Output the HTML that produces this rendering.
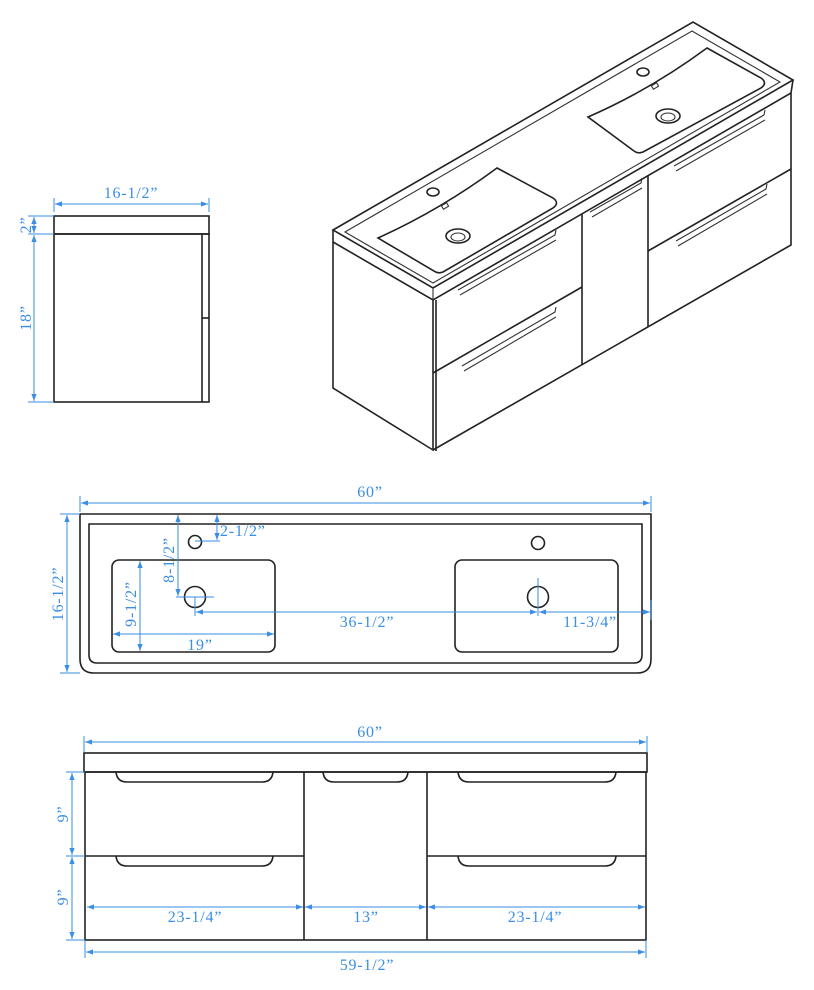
<!DOCTYPE html>
<html><head><meta charset="utf-8"><style>
html,body{margin:0;padding:0;background:#fff;}
svg{display:block;}
text{font-family:"Liberation Serif","Noto Serif CJK SC",serif;font-size:16px;letter-spacing:0.8px;fill:#3a8ee6;}
.k{fill:none;stroke:#222;stroke-width:1.6;}
.t{fill:none;stroke:#333;stroke-width:1.1;}
.d{fill:none;stroke:#3a8ee6;stroke-width:1;}
.a{fill:#3a8ee6;}
</style></head><body>
<svg width="814" height="990" viewBox="0 0 814 990" xmlns="http://www.w3.org/2000/svg">
<defs>
<marker id="m" viewBox="0 0 8 8" refX="8" refY="4" markerWidth="7" markerHeight="7" orient="auto-start-reverse"><path d="M0,1 L8,4 L0,7 z" fill="#3a8ee6"/></marker>
</defs>

<!-- ===== SIDE VIEW ===== -->
<rect class="k" x="54" y="216" width="155" height="18"/>
<rect class="k" x="54" y="234" width="155" height="168"/>
<line class="k" x1="202" y1="234" x2="202" y2="402"/>
<line class="k" x1="202" y1="318" x2="209" y2="318"/>
<line class="d" x1="54" y1="198" x2="54" y2="212"/>
<line class="d" x1="209" y1="198" x2="209" y2="212"/>
<line class="d" x1="55" y1="204" x2="208" y2="204" marker-start="url(#m)" marker-end="url(#m)"/>
<text x="131" y="198" text-anchor="middle">16-1/2”</text>
<line class="d" x1="28" y1="216" x2="54" y2="216"/>
<line class="d" x1="28" y1="234" x2="54" y2="234"/>
<line class="d" x1="28" y1="402" x2="54" y2="402"/>
<line class="d" x1="34" y1="217" x2="34" y2="233" marker-start="url(#m)" marker-end="url(#m)"/>
<line class="d" x1="34" y1="235" x2="34" y2="401" marker-start="url(#m)" marker-end="url(#m)"/>
<text transform="translate(31,225) rotate(-90)" text-anchor="middle">2”</text>
<text transform="translate(31,318) rotate(-90)" text-anchor="middle">18”</text>

<!-- ===== 3D VIEW ===== -->
<polygon class="k" points="333,230 693,22 793,80 433,288"/>
<polygon class="t" points="345,232 692,31 780,82 433,283"/>
<polyline class="k" points="333,230 333,242 433,300 791,93 793,80"/>
<line class="t" x1="433" y1="288" x2="433" y2="300"/>
<polyline class="k" points="333,242 333,388 433,450 433,300"/>
<polyline class="k" points="433,450 791,245 791,93"/>
<line class="k" x1="436" y1="300" x2="436" y2="451"/>
<line class="k" x1="582" y1="214" x2="582" y2="365"/>
<line class="k" x1="648" y1="176" x2="648" y2="327"/>
<line class="k" x1="433" y1="373" x2="582" y2="287"/>
<line class="k" x1="648" y1="251" x2="791" y2="169"/>
<g class="t">
<polyline points="458,290 555,235 556,230"/>
<polyline points="460,295 556,240"/>
<polyline points="462,366 555,312 556,307"/>
<polyline points="464,371 556,317"/>
<polyline points="590,212 641,183 642,178"/>
<polyline points="592,217 642,188"/>
<polyline points="674,166 764,115 765,110"/>
<polyline points="676,171 765,120"/>
<polyline points="676,241 766,189 767,184"/>
<polyline points="678,246 767,194"/>
</g>
<path class="k" d="M378,238 Q440,210 497,168 L553,198 Q560,203 553,208 L443,272 Q438,274 434,271 Z"/>
<path class="k" d="M588,117 Q650,90 707,48 L761,78 Q768,83 761,88 L643,152 Q638,154 634,151 Z"/>
<ellipse class="k" cx="458" cy="236" rx="12" ry="7"/>
<ellipse class="t" cx="458" cy="237" rx="7" ry="4"/>
<ellipse class="k" cx="668" cy="116" rx="12" ry="7"/>
<ellipse class="t" cx="668" cy="117" rx="7" ry="4"/>
<ellipse class="k" cx="433" cy="192" rx="6" ry="4"/>
<ellipse class="k" cx="643" cy="72" rx="6" ry="4"/>
<rect class="t" x="442" y="204" width="6" height="4" transform="rotate(-30 445 206)"/>
<rect class="t" x="652" y="84" width="6" height="4" transform="rotate(-30 655 86)"/>

<!-- ===== TOP VIEW ===== -->
<path class="k" d="M80,514 L651,514 L651,659 Q651,673 637,673 L94,673 Q80,673 80,659 Z"/>
<path class="k" d="M89,524 L642,524 L642,655 Q642,663 634,663 L97,663 Q89,663 89,655 Z"/>
<rect class="k" x="112" y="560" width="163" height="92" rx="7"/>
<rect class="k" x="455" y="560" width="163" height="92" rx="7"/>
<circle class="k" cx="195" cy="542" r="6.5"/>
<circle class="k" cx="538" cy="543" r="6.5"/>
<circle class="k" cx="195" cy="597" r="10.5"/>
<circle class="k" cx="538" cy="597" r="10.5"/>
<line class="d" x1="80" y1="496" x2="80" y2="512"/>
<line class="d" x1="651" y1="496" x2="651" y2="512"/>
<line class="d" x1="81" y1="503" x2="650" y2="503" marker-start="url(#m)" marker-end="url(#m)"/>
<text x="370" y="497" text-anchor="middle">60”</text>
<line class="d" x1="60" y1="514" x2="80" y2="514"/>
<line class="d" x1="60" y1="673" x2="80" y2="673"/>
<line class="d" x1="67" y1="515" x2="67" y2="672" marker-start="url(#m)" marker-end="url(#m)"/>
<text transform="translate(63,594) rotate(-90)" text-anchor="middle">16-1/2”</text>
<line class="d" x1="217" y1="515" x2="217" y2="540" marker-start="url(#m)" marker-end="url(#m)"/>
<line class="d" x1="195" y1="541" x2="220" y2="541"/>
<text x="220" y="536">2-1/2”</text>
<line class="d" x1="178" y1="515" x2="178" y2="596" marker-start="url(#m)" marker-end="url(#m)"/>
<line class="d" x1="176" y1="597" x2="214" y2="597"/>
<text transform="translate(174,560) rotate(-90)" text-anchor="middle">8-1/2”</text>
<line class="d" x1="140" y1="561" x2="140" y2="651" marker-start="url(#m)" marker-end="url(#m)"/>
<text transform="translate(136,604) rotate(-90)" text-anchor="middle">9-1/2”</text>
<line class="d" x1="113" y1="634" x2="274" y2="634" marker-start="url(#m)" marker-end="url(#m)"/>
<text x="200" y="650" text-anchor="middle">19”</text>
<line class="d" x1="195" y1="597" x2="195" y2="616"/>
<line class="d" x1="538" y1="578" x2="538" y2="616"/>
<line class="d" x1="196" y1="612" x2="537" y2="612" marker-start="url(#m)" marker-end="url(#m)"/>
<text x="367" y="627" text-anchor="middle">36-1/2”</text>
<line class="d" x1="539" y1="612" x2="650" y2="612" marker-start="url(#m)" marker-end="url(#m)"/>
<line class="d" x1="651" y1="600" x2="651" y2="620"/>
<text x="590" y="627" text-anchor="middle">11-3/4”</text>

<!-- ===== FRONT VIEW ===== -->
<rect class="k" x="84" y="753" width="563" height="19"/>
<rect class="k" x="85" y="772" width="561" height="168"/>
<line class="k" x1="304" y1="772" x2="304" y2="940"/>
<line class="k" x1="427" y1="772" x2="427" y2="940"/>
<line class="k" x1="85" y1="856" x2="304" y2="856"/>
<line class="k" x1="427" y1="856" x2="646" y2="856"/>
<g class="k">
<path d="M116,772 Q117,782 127,782 L262,782 Q272,782 273,772"/>
<path d="M323,772 Q324,782 334,782 L397,782 Q407,782 408,772"/>
<path d="M458,772 Q459,782 469,782 L605,782 Q615,782 616,772"/>
<path d="M116,856 Q117,866 127,866 L262,866 Q272,866 273,856"/>
<path d="M458,856 Q459,866 469,866 L605,866 Q615,866 616,856"/>
</g>
<line class="d" x1="84" y1="736" x2="84" y2="752"/>
<line class="d" x1="647" y1="736" x2="647" y2="752"/>
<line class="d" x1="85" y1="742" x2="646" y2="742" marker-start="url(#m)" marker-end="url(#m)"/>
<text x="370" y="737" text-anchor="middle">60”</text>
<line class="d" x1="66" y1="772" x2="85" y2="772"/>
<line class="d" x1="66" y1="856" x2="85" y2="856"/>
<line class="d" x1="66" y1="940" x2="85" y2="940"/>
<line class="d" x1="72" y1="773" x2="72" y2="855" marker-start="url(#m)" marker-end="url(#m)"/>
<line class="d" x1="72" y1="857" x2="72" y2="939" marker-start="url(#m)" marker-end="url(#m)"/>
<text transform="translate(68,814) rotate(-90)" text-anchor="middle">9”</text>
<text transform="translate(68,897) rotate(-90)" text-anchor="middle">9”</text>
<line class="d" x1="87" y1="907" x2="303" y2="907" marker-start="url(#m)" marker-end="url(#m)"/>
<line class="d" x1="305" y1="907" x2="426" y2="907" marker-start="url(#m)" marker-end="url(#m)"/>
<line class="d" x1="428" y1="907" x2="645" y2="907" marker-start="url(#m)" marker-end="url(#m)"/>
<text x="195" y="922" text-anchor="middle">23-1/4”</text>
<text x="366" y="922" text-anchor="middle">13”</text>
<text x="535" y="922" text-anchor="middle">23-1/4”</text>
<line class="d" x1="85" y1="940" x2="85" y2="958"/>
<line class="d" x1="646" y1="940" x2="646" y2="958"/>
<line class="d" x1="86" y1="952" x2="645" y2="952" marker-start="url(#m)" marker-end="url(#m)"/>
<text x="367" y="970" text-anchor="middle">59-1/2”</text>
</svg>
</body></html>
